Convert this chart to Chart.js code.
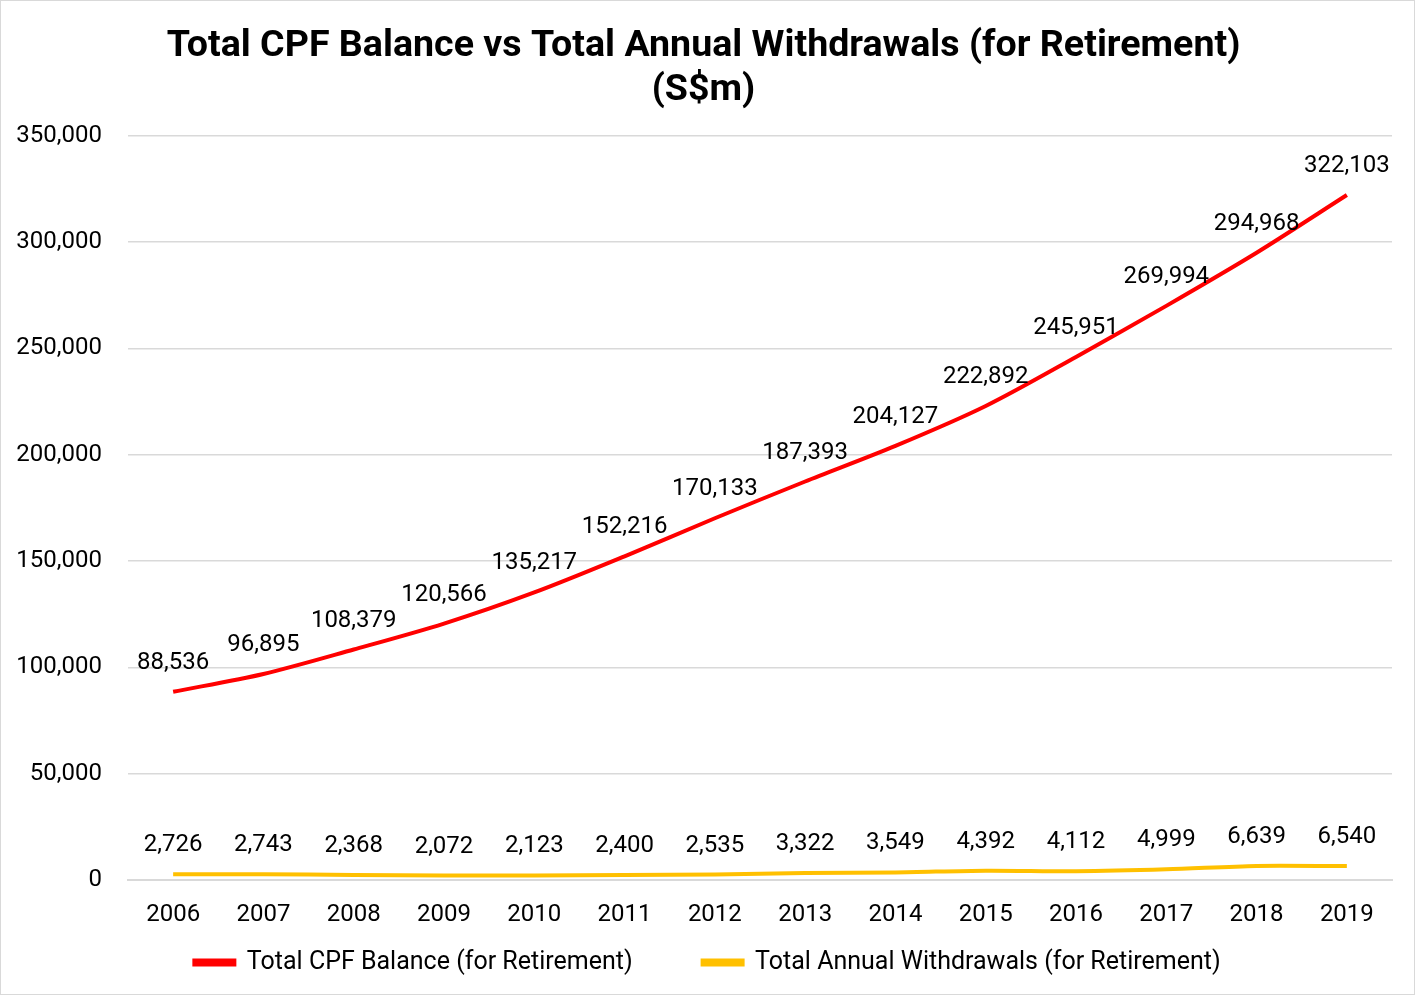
<!DOCTYPE html>
<html>
<head>
<meta charset="utf-8">
<script src="https://cdn.jsdelivr.net/npm/chart.js@4.4.1/dist/chart.umd.min.js"></script>
<style>
html,body{margin:0;padding:0;background:#fff;}
#wrap{position:absolute;left:0;top:0;width:1413px;height:993px;border:1px solid #d9d9d9;}
canvas{display:block;}
</style>
</head>
<body>
<div id="wrap"><canvas id="c" width="1413" height="993"></canvas></div>
<script>
const years = ['2006','2007','2008','2009','2010','2011','2012','2013','2014','2015','2016','2017','2018','2019'];
const cpfBalance = [88536,96895,108379,120566,135217,152216,170133,187393,204127,222892,245951,269994,294968,322103];
const withdrawals = [2726,2743,2368,2072,2123,2400,2535,3322,3549,4392,4112,4999,6639,6540];
const seriesNames = ['Total CPF Balance (for Retirement)','Total Annual Withdrawals (for Retirement)'];
const titleLines = ['Total CPF Balance vs Total Annual Withdrawals (for Retirement)','(S$m)'];

const FONT = 'Roboto, "Liberation Sans", sans-serif';
const FS = 24;
const fmt = v => v.toLocaleString('en-US');

const labelPlugin = {
  id:'dataLabels',
  afterDatasetsDraw(chart){
    const ctx = chart.ctx;
    ctx.save();
    ctx.font = FS + 'px ' + FONT;
    ctx.fillStyle = '#000';
    ctx.textAlign = 'center';
    ctx.textBaseline = 'middle';
    chart.data.datasets.forEach((ds,i)=>{
      const meta = chart.getDatasetMeta(i);
      meta.data.forEach((pt,j)=>{
        ctx.fillText(fmt(ds.data[j]), pt.x, pt.y - 29);
      });
    });
    ctx.restore();
  }
};

// Let the legend sit directly under the plot (its label padding gives the gap), centred on the canvas.
const legendPlace = {
  id:'legendPlace',
  afterLayout(chart){
    const lg = chart.legend;
    if(!lg) return;
    const dy = lg.top - chart.chartArea.bottom;
    lg.top -= dy; lg.bottom -= dy;
    lg.left = 0; lg.right = chart.width; lg.width = chart.width;
  }
};

new Chart(document.getElementById('c'), {
  type:'line',
  data:{
    labels: years,
    datasets:[
      {label:seriesNames[0], data:cpfBalance, borderColor:'#ff0000', backgroundColor:'#ff0000', borderWidth:4, pointRadius:0, tension:0.3},
      {label:seriesNames[1], data:withdrawals, borderColor:'#ffc000', backgroundColor:'#ffc000', borderWidth:4, pointRadius:0, tension:0.3}
    ]
  },
  options:{
    responsive:false,
    animation:false,
    layout:{padding:{left:14,right:22,top:23,bottom:-41}},
    plugins:{
      title:{display:true, text:titleLines, color:'#000', font:{family:FONT, size:37.6, weight:'bold', lineHeight:1.18}, padding:{top:0,bottom:23}},
      legend:{position:'bottom', labels:{color:'#000', font:{family:FONT, size:25}, boxWidth:40, boxHeight:4, padding:70}},
      tooltip:{enabled:false}
    },
    scales:{
      x:{
        offset:true,
        grid:{display:false, drawTicks:false},
        border:{display:true, color:'#d9d9d9', width:2},
        ticks:{color:'#000', font:{family:FONT, size:FS}, padding:21, maxRotation:0},
        afterFit(s){ s.height = 50; }
      },
      y:{
        min:0, max:350000,
        grid:{color:'#d9d9d9', lineWidth:1.5, drawTicks:false},
        border:{display:false},
        ticks:{stepSize:50000, color:'#000', font:{family:FONT, size:FS}, padding:26, callback:v=>fmt(v)},
        afterFit(s){ s.width = 113; }
      }
    }
  },
  plugins:[labelPlugin, legendPlace]
});
</script>
</body>
</html>
